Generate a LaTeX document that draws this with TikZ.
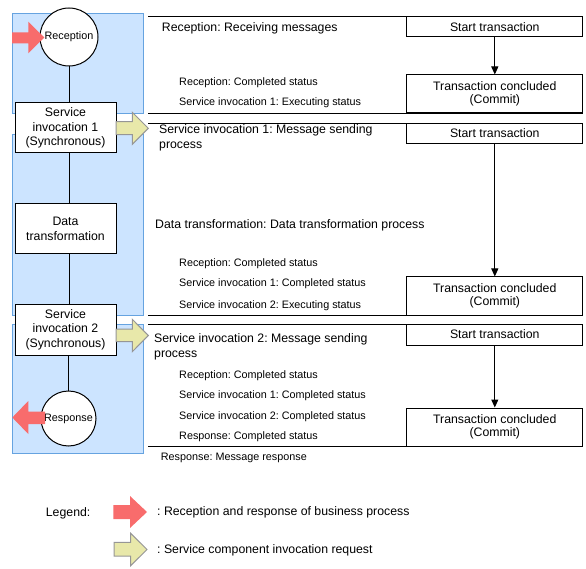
\documentclass[tikz,border=0pt]{standalone}
\usepackage{fontspec}
\setmainfont{Liberation Sans}
\usetikzlibrary{arrows.meta}
\definecolor{lanefill}{RGB}{204,228,255}
\definecolor{laneborder}{RGB}{102,163,224}
\definecolor{redarrow}{RGB}{248,108,108}
\definecolor{yelarrow}{RGB}{232,232,170}
\definecolor{yelborder}{RGB}{150,150,150}
\frenchspacing
\begin{document}
\begin{tikzpicture}[x=1pt,y=-1pt,
  big/.style={font=\fontsize{12.3}{15}\selectfont},
  small/.style={font=\fontsize{10.8}{13}\selectfont},
  lanebox/.style={fill=lanefill,draw=laneborder,line width=1pt},
  proc/.style={draw,fill=white,line width=1pt,minimum width=101pt,minimum height=50pt,align=center,inner sep=0,font=\fontsize{12.3}{14.5}\selectfont},
  ev/.style={draw,fill=white,circle,line width=1pt,inner sep=0,font=\fontsize{10.8}{13}\selectfont},
  tx/.style={draw,fill=white,line width=1pt,minimum width=176pt,align=center,inner sep=0,font=\fontsize{12.3}{13}\selectfont},
  lbl/.style={anchor=base west,inner sep=0},
  mlbl/.style={anchor=north west,inner sep=0,align=left},
  sep/.style={line width=1pt},
  flow/.style={line width=1pt,-{Triangle[length=8pt,width=7pt]}},
  redar/.style={fill=redarrow},
  yelar/.style={fill=yelarrow,draw=yelborder,line width=1pt},
]
\useasboundingbox (0,0) rectangle (586,569);

% lanes
\path[lanebox] (12.3,13.3) rectangle (143.3,113.3);
\path[lanebox] (12.3,135) rectangle (143.3,315);
\path[lanebox] (12.3,324) rectangle (143.3,453.3);

% left process chain
\node[ev,minimum size=58pt] (rec) at (69,37) {Reception};
\node[proc] (si1) at (65.5,128) {Service\\invocation 1\\(Synchronous)};
\node[proc] (dt) at (65.5,229) {Data\\transformation};
\node[proc,minimum height=51pt] (si2) at (65.5,329.5) {Service\\invocation 2\\(Synchronous)};
\node[ev,minimum size=55pt] (res) at (68.5,418.5) {Response};

\draw[sep] (rec.south) -- (rec.south |- si1.north);
\draw[sep] (si1.south -| rec.south) -- (dt.north -| rec.south);
\draw[sep] (dt.south -| rec.south) -- (si2.north -| rec.south);
\draw[sep] (si2.south -| res.north) -- (res.north);

% arrows
\fill[redar] (12,32.3) -- (28.3,32.3) -- (28.3,21.7) -- (44.3,37.5) -- (28.3,53.3) -- (28.3,43.5) -- (12,43.5) -- cycle;
\fill[redar] (45,411.7) -- (28.3,411.7) -- (28.3,401) -- (12.3,417.5) -- (28.3,434) -- (28.3,424) -- (45,424) -- cycle;
\draw[yelar] (116,121.7) -- (132.3,121.7) -- (132.3,112.3) -- (148.3,128.3) -- (132.3,144.3) -- (132.3,134.7) -- (116,134.7) -- cycle;
\draw[yelar] (116,329) -- (132.3,329) -- (132.3,319.3) -- (148.3,335.5) -- (132.3,351.7) -- (132.3,341.7) -- (116,341.7) -- cycle;

% separators
\draw[sep] (148,16.7) -- (583,16.7);
\draw[sep] (148,113.3) -- (583,113.3);
\draw[sep] (148,123.3) -- (583,123.3);
\draw[sep] (148,315) -- (583,315);
\draw[sep] (148,324) -- (583,324);
\draw[sep] (148,446) -- (583,446);

% transactions
\node[tx,minimum height=20pt] (st1) at (494.8,27) {Start transaction};
\node[tx,minimum height=38pt] (tc1) at (494.8,94) {Transaction concluded\\(Commit)};
\node[tx,minimum height=20pt] (st2) at (494.8,133.3) {Start transaction};
\node[tx,minimum height=38pt] (tc2) at (494.8,296) {Transaction concluded\\(Commit)};
\node[tx,minimum height=21pt] (st3) at (494.8,334.5) {Start transaction};
\node[tx,minimum height=38pt] (tc3) at (494.8,427) {Transaction concluded\\(Commit)};
\draw[flow] (st1) -- (tc1);
\draw[flow] (st2) -- (tc2);
\draw[flow] (st3) -- (tc3);

% labels
\node[big,lbl] at (161.7,31.7) {Reception: Receiving messages};
\node[small,lbl] at (179,86) {Reception: Completed status};
\node[small,lbl] at (179,106) {Service invocation 1: Executing status};
\node[big,mlbl] at (159,124) {Service invocation 1: Message sending\\process};
\node[big,lbl] at (155,229) {Data transformation: Data transformation process};
\node[small,lbl] at (179,267) {Reception: Completed status};
\node[small,lbl] at (179,287) {Service invocation 1: Completed status};
\node[small,lbl] at (179,308) {Service invocation 2: Executing status};
\node[big,mlbl] at (154,333) {Service invocation 2: Message sending\\process};
\node[small,lbl] at (179,378) {Reception: Completed status};
\node[small,lbl] at (179,398) {Service invocation 1: Completed status};
\node[small,lbl] at (179,419) {Service invocation 2: Completed status};
\node[small,lbl] at (179,439) {Response: Completed status};
\node[small,lbl] at (160.7,460) {Response: Message response};

% legend
\node[big,lbl] (leg) at (45.7,516) {Legend:};
\fill[redar] (113.3,505) -- (130,505) -- (130,496) -- (147,512) -- (130,528) -- (130,519) -- (113.3,519) -- cycle;
\node[big,lbl] at (157,515) {: Reception and response of business process};
\draw[yelar] (114,542.3) -- (130.7,542.3) -- (130.7,533.3) -- (147,549.5) -- (130.7,565.7) -- (130.7,556) -- (114,556) -- cycle;
\node[big,lbl] at (157,553) {: Service component invocation request};
\end{tikzpicture}
\end{document}
